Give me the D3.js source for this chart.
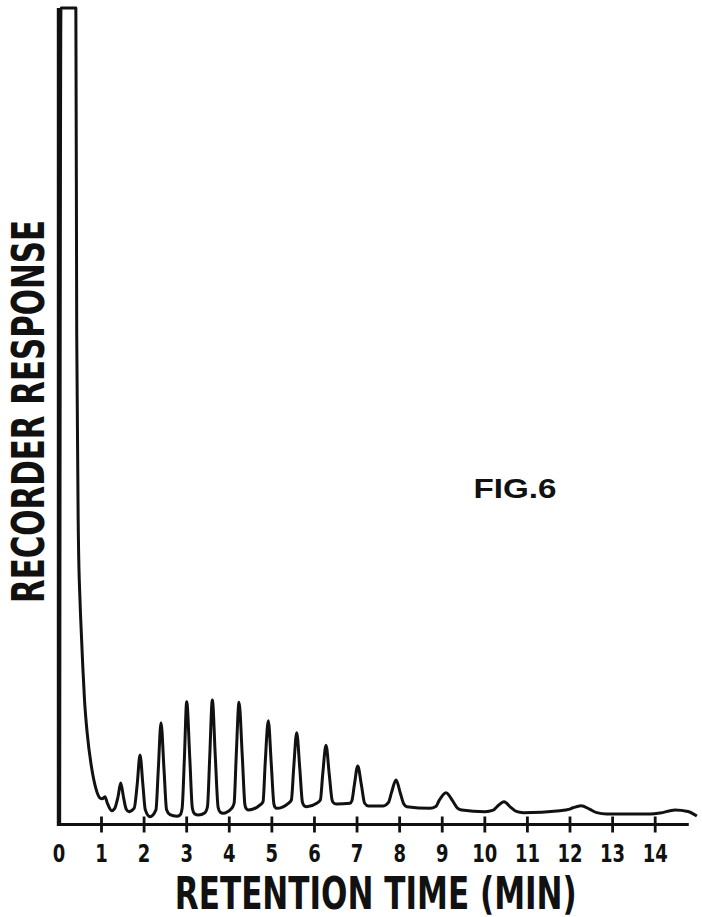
<!DOCTYPE html>
<html>
<head>
<meta charset="utf-8">
<script src="https://d3js.org/d3.v7.min.js"></script>
<style>
  body { margin: 0; background: #fff; }
  svg { display: block; }
</style>
</head>
<body>
<div id="graphic"></div>
<script>
// retention time (min) and recorder response (% of full scale)
let times = [
    0.03, 0.06, 0.41, 0.43, 0.47, 0.507, 0.538, 0.573, 0.613, 0.676, 0.777, 0.871, 0.977,
    1.03, 1.094, 1.15, 1.251,
    1.32, 1.40, 1.463, 1.53, 1.59, 1.658,
    1.78, 1.85, 1.916, 1.985, 2.04, 2.151,
    2.29, 2.345, 2.409, 2.48, 2.54, 2.62, 2.778, 2.855,
    2.905, 2.958, 3.012, 3.085, 3.145, 3.20, 3.285, 3.442,
    3.50, 3.553, 3.614, 3.684, 3.75, 3.80, 3.865, 4.069,
    4.125, 4.175, 4.241, 4.317, 4.38, 4.41, 4.459, 4.733,
    4.805, 4.855, 4.928, 4.998, 5.06, 5.09, 5.126, 5.398,
    5.47, 5.524, 5.595, 5.668, 5.73, 5.77, 5.83, 6.065,
    6.15, 6.205, 6.283, 6.36, 6.43, 6.47, 6.534, 6.847,
    6.89, 6.95, 7.028, 7.115, 7.19, 7.276, 7.629,
    7.75, 7.82, 7.927, 8.03, 8.11, 8.178, 8.725,
    8.86, 8.94, 9.101, 9.26, 9.37, 9.469, 10.016,
    10.21, 10.30, 10.463, 10.62, 10.75, 10.916, 11.777,
    11.98, 12.08, 12.27, 12.48, 12.64, 12.874, 13.89,
    14.125, 14.478, 14.78, 14.99
]
let response = [
    0, 100, 100, 60, 35, 27.5, 23.45, 19.3, 15.25, 11.2, 7.04, 4.59, 3.25,
    3.15, 3.40, 2.6, 1.69,
    1.95, 3.4, 5.08, 3.3, 1.9, 1.57,
    2.0, 4.9, 8.51, 4.8, 1.8, 0.955,
    1.8, 6.7, 12.47, 6.7, 1.8, 1.2, 1.0, 1.16,
    2.0, 8.1, 15.04, 8.1, 2.0, 1.3, 1.16, 1.45,
    2.2, 8.3, 15.25, 8.3, 2.1, 1.5, 1.37, 1.98,
    2.6, 8.4, 14.97, 8.4, 2.4, 1.95, 1.78, 2.39,
    2.8, 7.5, 12.71, 7.4, 2.5, 2.1, 1.98, 2.60,
    3.0, 6.9, 11.24, 6.8, 2.7, 2.3, 2.18, 2.60,
    3.0, 6.1, 9.70, 6.1, 2.9, 2.6, 2.51, 2.60,
    2.9, 4.9, 7.16, 4.8, 2.6, 2.27, 2.27,
    2.7, 3.9, 5.45, 3.8, 2.5, 2.18, 1.98,
    2.2, 2.95, 3.89, 2.85, 2.0, 1.78, 1.57,
    1.75, 2.2, 2.79, 2.1, 1.6, 1.45, 1.69,
    1.85, 2.05, 2.30, 1.85, 1.45, 1.29, 1.29,
    1.4, 1.78, 1.6, 1.04
]
let tick_values = [0, 1, 2, 3, 4, 5, 6, 7, 8, 9, 10, 11, 12, 13, 14]
let tick_labels = ['0', '1', '2', '3', '4', '5', '6', '7', '8', '9', '10', '11', '12', '13', '14']
let x_title = 'RETENTION TIME (MIN)'
let y_title = 'RECORDER RESPONSE'
let fig_label = 'FIG.6'

let width = 702
let height = 917
let cond_font = '"Liberation Sans Narrow", "DejaVu Sans Condensed", "Liberation Sans", sans-serif'

function drawAxes(g, x, y) {
    let xAxis = d3.axisBottom(x)
        .tickValues(tick_values)
        .tickFormat((d, i) => tick_labels[i])
        .tickSize(8)
        .tickSizeOuter(0)
        .tickPadding(12)
    let ax = g.append('g')
        .attr('transform', `translate(0, ${y(0)})`)
        .call(xAxis)
    ax.select('.domain').remove()
    ax.selectAll('.tick line')
        .attr('y1', -8)
        .attr('stroke', '#111')
        .attr('stroke-width', 2.8)
    ax.selectAll('.tick').filter(d => d === 0).select('line').remove()
    ax.selectAll('.tick text')
        .attr('fill', '#111')
        .attr('font-family', cond_font)
        .attr('font-weight', 'bold')
        .attr('font-size', 25)
        .attr('dy', '0.68em')
        .attr('textLength', (d, i) => tick_labels[i].length * 12.5)
        .attr('lengthAdjust', 'spacingAndGlyphs')
    // baseline and the pen's zero side
    g.append('line')
        .attr('x1', x(0)).attr('x2', x(14.8))
        .attr('y1', y(0)).attr('y2', y(0))
        .attr('stroke', '#111').attr('stroke-width', 3.2)
    g.append('line')
        .attr('x1', x(0)).attr('x2', x(0))
        .attr('y1', y(0) + 1.6).attr('y2', y(100))
        .attr('stroke', '#111').attr('stroke-width', 3.2)
}

function drawTrace(g, x, y) {
    let data = times.map((t, i) => [t, response[i]])
    let line = d3.line()
        .x(d => x(d[0]))
        .y(d => y(d[1]))
        .curve(d3.curveMonotoneX)
    g.append('path')
        .datum(data)
        .attr('d', line)
        .attr('fill', 'none')
        .attr('stroke', '#111')
        .attr('stroke-width', 3)
        .attr('stroke-linejoin', 'round')
}

function drawLabels(g) {
    g.append('text')
        .attr('x', 375.8).attr('y', 908.5)
        .attr('text-anchor', 'middle')
        .attr('font-family', cond_font)
        .attr('font-weight', 'bold')
        .attr('font-size', 44)
        .attr('textLength', 402)
        .attr('lengthAdjust', 'spacingAndGlyphs')
        .attr('fill', '#111')
        .text(x_title)
    g.append('text')
        .attr('transform', 'translate(43.5, 411.5) rotate(-90)')
        .attr('text-anchor', 'middle')
        .attr('font-family', cond_font)
        .attr('font-weight', 'bold')
        .attr('font-size', 45)
        .attr('textLength', 383)
        .attr('lengthAdjust', 'spacingAndGlyphs')
        .attr('fill', '#111')
        .text(y_title)
    g.append('text')
        .attr('x', 473.5).attr('y', 498.3)
        .attr('font-family', '"Liberation Sans", Arial, sans-serif')
        .attr('font-weight', 'bold')
        .attr('font-size', 27.5)
        .attr('textLength', 83)
        .attr('lengthAdjust', 'spacingAndGlyphs')
        .attr('fill', '#111')
        .text(fig_label)
}

let svg = d3.select('#graphic').append('svg')
    .attr('width', width)
    .attr('height', height)
svg.append('rect').attr('width', width).attr('height', height).attr('fill', '#fff')

let x = d3.scaleLinear().domain([0, 14]).range([58.4, 654.7])
let y = d3.scaleLinear().domain([0, 100]).range([824.5, 8])

let g = svg.append('g')
drawAxes(g, x, y)
drawTrace(g, x, y)
drawLabels(g)
</script>
</body>
</html>
